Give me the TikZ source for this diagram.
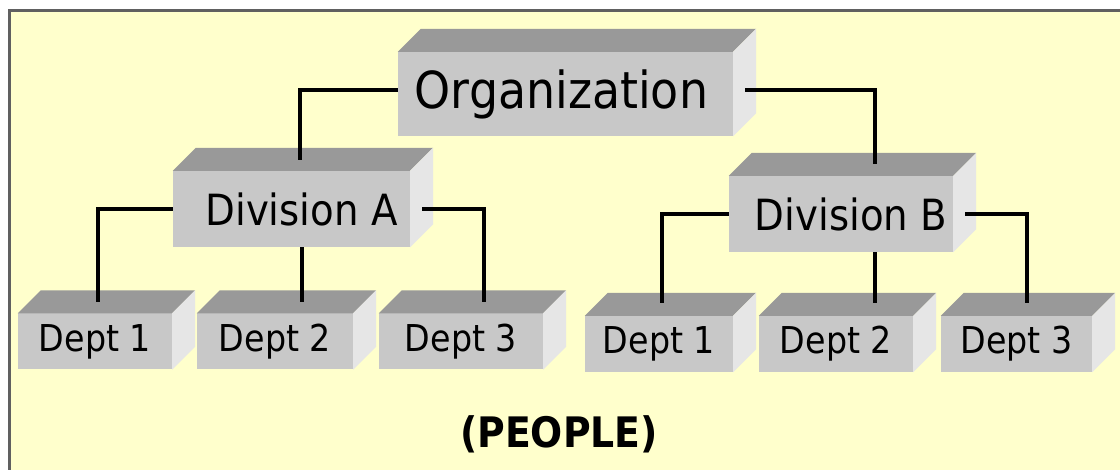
\documentclass[tikz,border=0pt]{standalone}
\usepackage{fontspec}
\setmainfont{DejaVu Sans Condensed}
\usepackage{tikz}
\usetikzlibrary{positioning}

\definecolor{paper}{HTML}{FFFFCC}
\definecolor{frontgray}{HTML}{C8C8C8}
\definecolor{topgray}{HTML}{999999}
\definecolor{sidegray}{HTML}{E6E6E6}
\definecolor{framegray}{HTML}{606060}

\tikzset{
  box/.style={fill=frontgray,inner sep=0pt,anchor=center},
  orgbox/.style={box,minimum width=335pt,minimum height=84pt,font=\fontsize{51}{56}\selectfont},
  divbox/.style={box,minimum height=76pt,font=\fontsize{43}{48}\selectfont},
  deptbox/.style={box,minimum height=56pt,font=\fontsize{37}{40}\selectfont},
  link/.style={line width=4pt,black}
}

\begin{document}
\begin{tikzpicture}[x=1pt,y=1pt]
\useasboundingbox (0,0) rectangle (1120,470);
% background and frame
\fill[paper] (9.5,0) rectangle (1120,459.5);
\draw[framegray,line width=3pt] (9.5,0) -- (9.5,459.5) -- (1120,459.5);

% boxes
\node[orgbox] (org) at (565.5,376) {Organization\hspace*{8pt}};
\node[divbox,minimum width=237pt] (divA) at (291.5,261) {\hspace*{20pt}Division A};
\node[divbox,minimum width=224pt] (divB) at (841,256) {\hspace*{20pt}Division B};
\node[deptbox,minimum width=154pt] (dA1) at (95,128.5) {Dept 1};
\node[deptbox,minimum width=156pt] (dA2) at (275,128.5) {Dept 2};
\node[deptbox,minimum width=164pt] (dA3) at (461,128.5) {Dept 3};
\node[deptbox,minimum width=148pt] (dB1) at (659,126) {Dept 1};
\node[deptbox,minimum width=154pt] (dB2) at (836,126) {Dept 2};
\node[deptbox,minimum width=151pt] (dB3) at (1016.5,126) {Dept 3};

% top and side faces
\foreach \n in {org,divA,divB,dA1,dA2,dA3,dB1,dB2,dB3} {
  \fill[topgray] (\n.north west) -- ++(23,23) -- ([shift={(23,23)}]\n.north east) -- (\n.north east) -- cycle;
  \fill[sidegray] (\n.north east) -- ++(23,23) -- ([shift={(23,23)}]\n.south east) -- (\n.south east) -- cycle;
}

% line ends on the top faces
\coordinate (divA-top) at (300,310);
\coordinate (divB-top) at (875,306);
\coordinate (dA1-top) at (98,168);
\coordinate (dA2-top) at (302,168);
\coordinate (dA3-top) at (484,168);
\coordinate (dB1-top) at (662,167);
\coordinate (dB2-top) at (875,167);
\coordinate (dB3-top) at (1027,167);

% connectors
\draw[link] ([yshift=4pt]org.west) -| (divA-top);
\draw[link] ([shift={(12,4)}]org.east) -| (divB-top);
\draw[link] (divA.west) -| (dA1-top);
\draw[link] ([xshift=10.5]divA.south) -- (dA2-top);
\draw[link] ([xshift=12]divA.east) -| (dA3-top);
\draw[link] (divB.west) -| (dB1-top);
\draw[link] ([xshift=34]divB.south) -- (dB2-top);
\draw[link] ([xshift=12]divB.east) -| (dB3-top);

\node[font=\fontsize{42}{46}\selectfont\bfseries] (people) at (559,36) {(PEOPLE)};
\end{tikzpicture}
\end{document}
